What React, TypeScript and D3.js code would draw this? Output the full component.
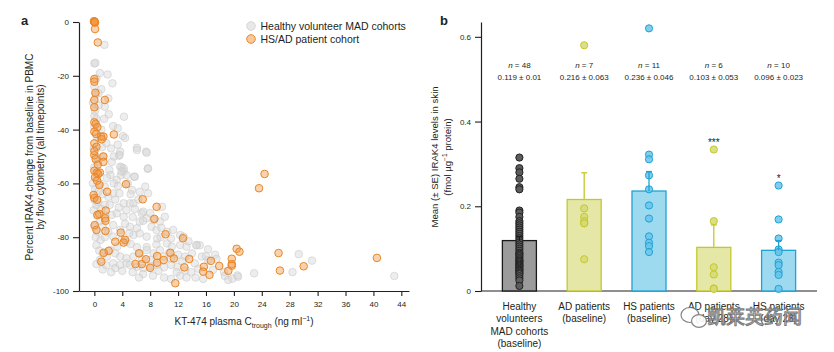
import React, { useRef, useEffect } from 'react';
import * as d3 from 'd3';

const WIDTH = 834;
const HEIGHT = 352;
const FONT = '"Liberation Sans", Arial, Helvetica, sans-serif';
const INK = '#231f20';

// ---- panel a: [KT-474 Ctrough (ng/ml), % IRAK4 change] ----
const healthyPoints = [
  [1.45, -8.5], [0, -15.4], [0.15, -15.2], [1.9, -19.5], [2.6, -22.8], [0.6, -26.5], [2, -28.4],
  [1.5, -31.5], [0, -35], [2.06, -34.3], [4.25, -35.2], [2.7, -38.7], [3.35, -39.5], [4.1, -42.4],
  [4.4, -43.1], [3.35, -45.6], [1.1, -46.5], [6.1, -46.8], [7.4, -48.2], [3.7, -48.2], [3.55, -49.7],
  [7.65, -54.6], [3.9, -54], [4.2, -55.5], [3.8, -57], [5.7, -57.5],
  [0, -24], [0.2, -27], [-0.2, -30], [0.1, -33], [0.3, -36], [0, -39], [0.4, -43], [-0.1, -47],
  [0.2, -50], [0.5, -52], [0, -54], [0.3, -58], [-0.2, -60], [0.1, -62], [0.6, -63], [0, -66],
  [0.3, -68], [-0.1, -70], [0.4, -72], [0.8, -74], [0, -76], [0.5, -78], [0.2, -80], [0.9, -81],
  [0.3, -83], [0.7, -85], [1.2, -86],
  [3.6, -49.4], [6.1, -47.6], [7.5, -48.6], [3.7, -53.8], [4.2, -54.4], [3.9, -55.6], [4.6, -56.9],
  [3.2, -58.7], [5.8, -57.5], [7.7, -54.4], [2.15, -55], [2.3, -56.9], [0.8, -60], [1.5, -61.2],
  [5.4, -62.5], [6.5, -63.1], [7.3, -61.2], [7.7, -63.7], [2.7, -63.7], [3.6, -63.7], [4.2, -67.4],
  [5.1, -67.4], [0.5, -67], [1, -69.5], [1.5, -68], [6.8, -71.1], [7.5, -73], [8.5, -73.6],
  [2.5, -71.7], [3.2, -71.1], [4.2, -72.4], [9.4, -74.2], [10.1, -72.4], [5.1, -76.1], [6.1, -76.7],
  [6.5, -74.2], [7, -73.9], [2.7, -75.5], [3.7, -77.3], [2, -78], [8.2, -76.1], [8.9, -77.3],
  [10.4, -78], [5.6, -79.2], [6.5, -78.6], [7.5, -79.8], [11.3, -77.3], [12.3, -79.2], [12.8, -79.8],
  [2.7, -79.8], [3.9, -81], [4.6, -81.7], [6.1, -83.7], [7.5, -83.7], [8.9, -82.7], [10.4, -82.3],
  [11.1, -83.5], [12.3, -82.9], [13.2, -83.5], [14.7, -82.9], [2.25, -84.8], [3, -86], [3.7, -87.2],
  [4.6, -87.8], [5.6, -87.2], [6.5, -86], [7.5, -84.8], [8.5, -86], [9.4, -84.8], [10, -87.2],
  [11, -88], [12, -86.5], [13, -87.2], [14, -86], [0.8, -88.5], [1.8, -87.2], [2.7, -89.7],
  [3.7, -90.3], [4.6, -89.7], [5.1, -90.3], [6.1, -91], [7, -91.5], [8, -90.8], [9, -90.3],
  [10, -91.2], [11, -90.3], [11.9, -91], [13, -92.4], [13.9, -93], [14.9, -91.7], [7, -93.7],
  [8.4, -94.3], [12.3, -94.3], [13.2, -95], [10, -95], [11, -95.5], [14.4, -89.7], [15.4, -87.2],
  [16.3, -88.5], [17.3, -86.5], [9.7, -68.7], [7, -70.5], [5.6, -67.4],
  [1.2, -50], [2.5, -52], [1.8, -58], [2.8, -60], [3.4, -61], [4.8, -60], [5.2, -64], [2, -65],
  [3, -66], [1.2, -64], [2.2, -68], [3.5, -69], [4.6, -70], [5.8, -69.5], [6.3, -66], [1.6, -72],
  [5.5, -72.5], [8, -71], [1.2, -76], [4.4, -75], [5, -78.5], [9.6, -76.5], [11, -80.5], [1.5, -80],
  [3.3, -83.5], [5.2, -82.5], [9.5, -80], [6.8, -88], [8, -88.5], [9.2, -92.5], [5.5, -93], [4, -92.5],
  [3, -91.5], [1.7, -90.5], [2.4, -93], [6.4, -95], [11.8, -93], [12.6, -89], [14.5, -95], [15.6, -95.5],
  [17, -92.2], [16.3, -84.5], [0.3, -90], [1.2, -92], [0.8, -19], [0.3, -21], [1, -25], [0.6, -31],
  [1.4, -36], [1, -40], [1.7, -45], [2.4, -47], [2.8, -50], [9, -80.5], [10.7, -85.8], [13.5, -81.5],
  [14.6, -83], [15.1, -83], [16, -87], [17.5, -88.1], [18.6, -93], [18.7, -94.4], [19.2, -95.9],
  [19.8, -95.4], [20.5, -94.2], [20.6, -94.7], [22.9, -93.4], [28.4, -93], [29.3, -86.3],
  [31.2, -88.7], [43, -94.4],
];

const patientPoints = [
  [0, 0], [0.05, 0], [-0.05, 0.3], [0.1, -0.2], [0, 0.2], [0.05, -0.1],
  [0.1, -2.6], [0.5, -7.6], [0, -21.2], [0, -22.2], [0.15, -26.3], [0, -29], [1.5, -29], [0, -31.7],
  [0, -37.3], [0.2, -37.9], [0.43, -39.1], [0, -40.8], [0.25, -41.6], [0.96, -42.6], [1.3, -42.6],
  [2.8, -41.8], [1.06, -43.6], [0, -45.1], [0.3, -46.4], [0, -49.5], [1.3, -50], [0, -48],
  [0.2, -51], [0.5, -53], [1.3, -52], [0.8, -56],
  [0, -55.3], [0.34, -56], [0.55, -56.5], [0.1, -57.7], [0.4, -59], [0.72, -60.6], [4.54, -60.3],
  [1.82, -63.1], [-0.1, -64.3], [0, -65.4], [0.4, -66.1], [6.93, -65.9], [8.93, -68.7], [1.63, -70.1],
  [0.7, -71.4], [0.44, -71.7], [1.53, -73], [1.6, -73.9], [8.6, -73.2], [0.05, -75.5], [0.3, -77.3],
  [1.6, -77.7], [3.78, -78.3], [10.2, -78.9], [3.0, -81.7], [4.4, -81], [4.2, -82], [12.7, -80.4],
  [2.05, -85.1], [1.34, -85.8], [1.0, -89.1], [6.4, -86], [5.9, -90], [6.8, -90], [7.4, -88.2],
  [8.0, -91.4], [9.0, -87], [9.0, -89.5], [9.94, -88.5], [10.9, -85.8], [11.4, -87.9], [12.9, -91.2],
  [11.6, -97.1], [13.6, -88.1], [15.7, -91], [15.6, -92.8], [16.5, -94], [16.7, -88.8], [17.9, -90.7],
  [19.2, -92.5], [19.7, -88], [19.7, -90], [19.7, -90.6], [20.4, -84.3], [20.8, -85.4], [23.6, -61.8],
  [24.4, -56.5], [26.4, -85.9], [26.6, -92.4], [30.0, -90.8], [40.5, -87.7],
];

const aXTicks = [0, 4, 8, 12, 16, 20, 24, 28, 32, 36, 40, 44];
const aYTicks = [0, -20, -40, -60, -80, -100];
const legendLabels = ['Healthy volunteer MAD cohorts', 'HS/AD patient cohort'];

// ---- panel b ----
const groups = ['hvBase', 'adBase', 'hsBase', 'adDay', 'hsDay'];
const groupLabels = [
  ['Healthy', 'volunteers', 'MAD cohorts', '(baseline)'],
  ['AD patients', '(baseline)'],
  ['HS patients', '(baseline)'],
  ['AD patients', '(day 28)'],
  ['HS patients', '(day 28)'],
];
const groupN = [48, 7, 11, 6, 10];
const groupMeans = [0.119, 0.216, 0.236, 0.103, 0.096];
const groupSE = [0.01, 0.063, 0.046, 0.053, 0.023];
const groupMeanText = ['0.119 ± 0.01', '0.216 ± 0.063', '0.236 ± 0.046', '0.103 ± 0.053', '0.096 ± 0.023'];
const groupSig = ['', '', '', '***', '*'];
const groupValues = [
  [0.315, 0.29, 0.28, 0.265, 0.245, 0.24, 0.19, 0.185, 0.175, 0.165, 0.16, 0.155, 0.15, 0.145, 0.14,
    0.135, 0.13, 0.125, 0.12, 0.115, 0.11, 0.105, 0.1, 0.095, 0.09, 0.088, 0.085, 0.082, 0.078, 0.075,
    0.072, 0.07, 0.068, 0.065, 0.062, 0.06, 0.058, 0.055, 0.052, 0.05, 0.048, 0.045, 0.042, 0.04,
    0.035, 0.03, 0.025, 0.012],
  [0.58, 0.195, 0.175, 0.165, 0.16, 0.16, 0.075],
  [0.62, 0.322, 0.311, 0.273, 0.24, 0.202, 0.171, 0.129, 0.114, 0.106, 0.092],
  [0.334, 0.165, 0.056, 0.039, 0.006, 0.005],
  [0.249, 0.169, 0.124, 0.098, 0.092, 0.067, 0.061, 0.045, 0.038, 0.005],
];
const bTicks = [0, 0.2, 0.4, 0.6];

const GREY = { bar: '#9b9b9b', line: '#1a1a1a', dot: '#5c5c5c', dotLine: '#222' };
const AD = { bar: '#e4e7a5', line: '#c4c92a', dot: '#d6d976', dotLine: '#c4c92a' };
const HS = { bar: '#9dd9ef', line: '#1ea3d4', dot: '#68c6eb', dotLine: '#1ea3d4' };
const groupStyle = [GREY, AD, HS, AD, HS];

const App = () => {
  const svgRef = useRef<SVGSVGElement>(null);

  useEffect(() => {
    const svg = d3.select(svgRef.current);
    svg.selectAll('*').remove();
    svg.attr('font-family', FONT);

    // ================= panel a =================
    const ax = d3.scaleLinear().domain([-2.2, 45.1]).range([79, 409]);
    const ay = d3.scaleLinear().domain([0, -100]).range([22, 291]);

    const a = svg.append('g');

    a.append('text').attr('x', 21).attr('y', 25).attr('font-size', 13).attr('font-weight', 'bold')
      .attr('fill', INK).text('a');

    const styleAxis = (g) => {
      g.select('.domain').attr('stroke', INK).attr('stroke-width', 1.2);
      g.selectAll('.tick line').attr('stroke', INK).attr('stroke-width', 1.1);
      g.selectAll('.tick text').attr('fill', INK).attr('font-size', 8).attr('font-family', FONT);
    };

    a.append('g').attr('transform', 'translate(0,291)')
      .call(d3.axisBottom(ax).tickValues(aXTicks).tickSize(5).tickSizeOuter(0).tickPadding(5)
        .tickFormat((d) => String(d)))
      .call(styleAxis);

    a.append('g').attr('transform', 'translate(79,0)')
      .call(d3.axisLeft(ay).tickValues(aYTicks).tickSize(6).tickSizeOuter(0).tickPadding(4)
        .tickFormat((d) => String(d)))
      .call(styleAxis);

    a.append('g').selectAll('circle').data(healthyPoints).enter().append('circle')
      .attr('cx', (d) => ax(d[0])).attr('cy', (d) => ay(d[1])).attr('r', 3.8)
      .attr('fill', 'rgba(214,214,214,0.45)').attr('stroke', 'rgba(200,200,200,0.55)').attr('stroke-width', 1);

    a.append('g').selectAll('circle').data(patientPoints).enter().append('circle')
      .attr('cx', (d) => ax(d[0])).attr('cy', (d) => ay(d[1])).attr('r', 3.8)
      .attr('fill', 'rgba(242,150,62,0.42)').attr('stroke', '#e8872a').attr('stroke-width', 1);

    // legend
    const legend = a.append('g').selectAll('g').data(legendLabels).enter().append('g')
      .attr('transform', (d, i) => `translate(251,${26 + i * 13})`);
    legend.append('circle').attr('r', 4.3)
      .attr('fill', (d, i) => (i === 0 ? '#e8e8e8' : '#f7c89c'))
      .attr('stroke', (d, i) => (i === 0 ? '#d6d6d6' : '#e8872a')).attr('stroke-width', 1);
    legend.append('text').attr('x', 9.5).attr('y', 0).attr('dy', '0.35em').attr('font-size', 10.5)
      .attr('fill', INK).text((d) => d);

    // axis titles
    const aTitle = a.append('text').attr('x', 244).attr('y', 325).attr('font-size', 10)
      .attr('text-anchor', 'middle').attr('fill', INK);
    aTitle.append('tspan').text('KT-474 plasma C');
    aTitle.append('tspan').attr('font-size', 7).attr('dy', 2.5).text('trough');
    aTitle.append('tspan').attr('dy', -2.5).text(' (ng ml');
    aTitle.append('tspan').attr('font-size', 7).attr('dy', -4).text('−1');
    aTitle.append('tspan').attr('dy', 4).text(')');

    const aYTitle = a.append('text').attr('transform', 'translate(0,157) rotate(-90)')
      .attr('font-size', 10).attr('text-anchor', 'middle').attr('fill', INK);
    aYTitle.append('tspan').attr('x', 0).attr('y', 32.5).text('Percent IRAK4 change from baseline in PBMC');
    aYTitle.append('tspan').attr('x', 0).attr('y', 44).text('by flow cytometry (all timepoints)');

    // ================= panel b =================
    const bx = d3.scaleBand().domain(groups).range([481, 817]).paddingInner(0.475).paddingOuter(0.33);
    const by = d3.scaleLinear().domain([0, 0.635]).range([291, 22]);
    const b = svg.append('g');

    b.append('text').attr('x', 440).attr('y', 25).attr('font-size', 13).attr('font-weight', 'bold')
      .attr('fill', INK).text('b');

    b.append('g').attr('transform', 'translate(481,0)')
      .call(d3.axisLeft(by).tickValues(bTicks).tickSize(6).tickSizeOuter(0).tickPadding(4)
        .tickFormat((d) => (d === 0 ? '0' : d3.format('.1f')(d))))
      .call(styleAxis);

    b.append('line').attr('x1', 481).attr('x2', 817).attr('y1', 291).attr('y2', 291)
      .attr('stroke', INK).attr('stroke-width', 1.2);

    groups.forEach((gKey, i) => {
      const st = groupStyle[i];
      const x0 = bx(gKey);
      const cx = x0 + bx.bandwidth() / 2;

      b.append('rect').attr('x', x0).attr('width', bx.bandwidth())
        .attr('y', by(groupMeans[i])).attr('height', by(0) - by(groupMeans[i]))
        .attr('fill', st.bar).attr('stroke', st.line).attr('stroke-width', 1.3);

      b.append('g').selectAll('circle').data(groupValues[i]).enter().append('circle')
        .attr('cx', cx).attr('cy', (d) => by(d)).attr('r', 3.6)
        .attr('fill', st.dot).attr('fill-opacity', i === 0 ? 1 : 0.85)
        .attr('stroke', st.dotLine).attr('stroke-width', 1);

      const top = by(groupMeans[i] + groupSE[i]);
      b.append('line').attr('x1', cx).attr('x2', cx).attr('y1', by(groupMeans[i])).attr('y2', top)
        .attr('stroke', st.line).attr('stroke-width', 1.3);
      b.append('line').attr('x1', cx - 3).attr('x2', cx + 3).attr('y1', top).attr('y2', top)
        .attr('stroke', st.line).attr('stroke-width', 1.3);

      const nText = b.append('text').attr('x', cx).attr('y', 68).attr('font-size', 8)
        .attr('text-anchor', 'middle').attr('fill', INK);
      nText.append('tspan').attr('font-style', 'italic').text('n');
      nText.append('tspan').text(` = ${groupN[i]}`);
      b.append('text').attr('x', cx).attr('y', 80).attr('font-size', 8)
        .attr('text-anchor', 'middle').attr('fill', INK).text(groupMeanText[i]);

      if (groupSig[i]) {
        const maxV = d3.max(groupValues[i]);
        b.append('text').attr('x', cx).attr('y', by(maxV) - 4).attr('font-size', 10)
          .attr('text-anchor', 'middle').attr('fill', INK).text(groupSig[i]);
      }

      const lbl = b.append('text').attr('text-anchor', 'middle').attr('font-size', 10).attr('fill', INK);
      groupLabels[i].forEach((line, j) => {
        lbl.append('tspan').attr('x', cx).attr('y', 309.5 + j * 12.5).text(line);
      });
    });

    const bYTitle = b.append('text').attr('transform', 'translate(0,157) rotate(-90)')
      .attr('font-size', 9.6).attr('text-anchor', 'middle').attr('fill', INK);
    bYTitle.append('tspan').attr('x', 0).attr('y', 438).text('Mean (± SE) IRAK4 levels in skin');
    bYTitle.append('tspan').attr('x', 0).attr('y', 450.5).text('(fmol µg');
    bYTitle.append('tspan').attr('font-size', 6.5).attr('dy', -3.5).text('−1');
    bYTitle.append('tspan').attr('dy', 3.5).text(' protein)');

    // watermark
    const wm = svg.append('g').attr('opacity', 0.9);
    wm.append('ellipse').attr('cx', 690).attr('cy', 315).attr('rx', 9).attr('ry', 7.5)
      .attr('fill', '#fff').attr('stroke', '#7a7a7a').attr('stroke-width', 1.2);
    wm.append('ellipse').attr('cx', 699).attr('cy', 321).attr('rx', 7.5).attr('ry', 6.3)
      .attr('fill', '#fff').attr('stroke', '#7a7a7a').attr('stroke-width', 1.2);
    wm.append('text').attr('x', 707).attr('y', 324).attr('font-size', 19)
      .attr('font-family', '"Noto Sans CJK SC", sans-serif')
      .attr('fill', '#fff').attr('stroke', '#6e6e6e').attr('stroke-width', 1)
      .attr('paint-order', 'fill').text('凯莱英药闻');
  }, []);

  return (
    <svg
      ref={svgRef}
      width={WIDTH}
      height={HEIGHT}
      style={{ position: 'absolute', left: 0, top: 0, background: '#fff' }}
    />
  );
};

export default App;
